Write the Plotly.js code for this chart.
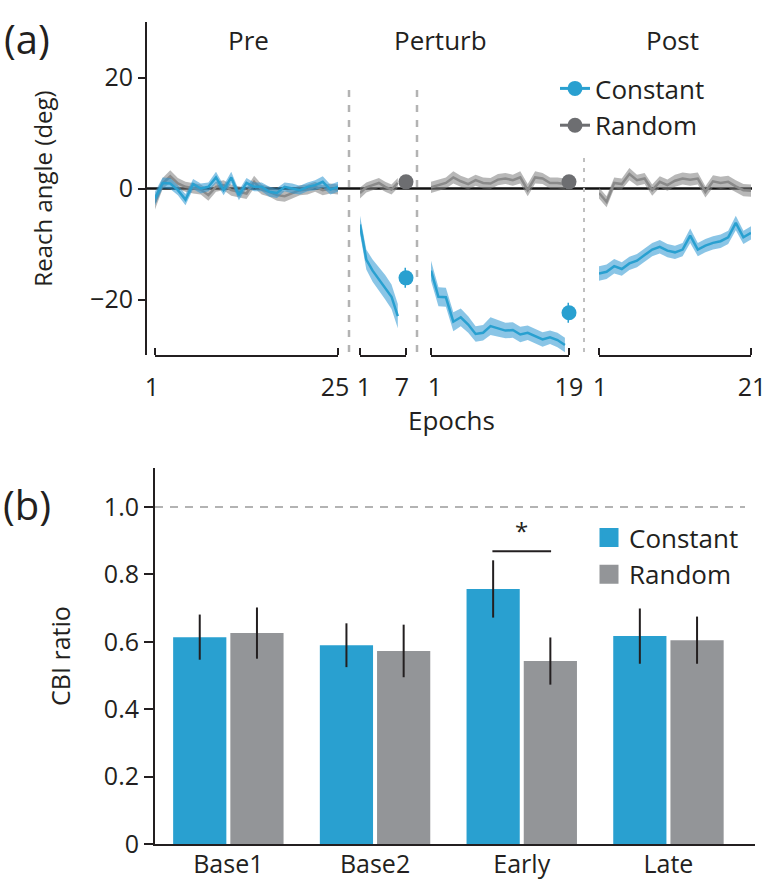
<!DOCTYPE html>
<html>
<head>
<meta charset="utf-8">
<script src="https://cdn.plot.ly/plotly-3.0.1.min.js"></script>
<style>
html,body{margin:0;padding:0;background:#fff;}
#chart{width:767px;height:889px;}
</style>
</head>
<body>
<div id="chart"></div>
<script>
// ---------------- Panel (a) data: reach angle (deg) per epoch ----------------
const preEpochs = [1,2,3,4,5,6,7,8,9,10,11,12,13,14,15,16,17,18,19,20,21,22,23,24,25];
const preConstMean = [-1.8,1.0,0.9,-0.3,-2.0,0.8,0.0,0.3,2.0,-0.3,2.0,-1.2,1.0,0.3,0.3,-0.6,-0.8,0.3,0.0,-0.3,0.3,0.6,1.2,-0.2,0.3];
const preConstSem  = [1.2,1.0,1.0,0.9,1.0,0.9,0.9,0.8,1.0,0.9,1.0,0.9,0.9,0.8,0.8,0.9,0.9,0.8,0.9,0.8,0.8,0.9,1.0,0.9,0.9];
const preRandMean  = [-2.5,0.9,2.2,0.9,0.3,0.0,-0.2,-1.2,0.3,0.6,-0.3,-0.6,-0.9,1.2,-0.2,-0.6,-1.2,-1.4,-0.9,-0.3,-0.2,0.3,-0.3,0.0,-0.2];
const preRandSem   = [1.3,1.0,1.1,1.0,0.9,0.9,0.9,1.0,0.9,0.9,1.0,1.0,1.0,1.1,0.9,0.9,1.0,1.0,0.9,0.9,0.9,0.9,0.9,0.9,0.9];

const pert1Epochs = [1,2,3,4,5,6,7];
const pert1ConstMean = [-6.5,-12.8,-14.8,-16.3,-17.8,-19.5,-23.0];
const pert1ConstSem  = [1.6,1.8,2.0,2.1,2.2,2.2,2.2];
const pert1RandMean  = [-0.8,0.2,0.6,1.0,0.3,-0.2,1.0];
const pert1RandSem   = [1.0,0.9,0.9,0.9,0.9,0.9,0.9];

const pert2Epochs = [1,2,3,4,5,6,7,8,9,10,11,12,13,14,15,16,17,18,19];
const pert2ConstMean = [-14.8,-19.5,-19.6,-24.0,-23.2,-24.5,-26.2,-26.0,-24.8,-25.2,-25.6,-25.5,-26.3,-26.0,-26.6,-27.2,-26.8,-27.3,-28.2];
const pert2ConstSem  = [1.8,1.7,1.7,1.7,1.6,1.5,1.4,1.4,1.6,1.5,1.4,1.4,1.4,1.3,1.3,1.3,1.2,1.3,1.3];
const pert2RandMean  = [0.2,0.6,1.0,2.0,1.3,0.8,1.5,1.0,0.9,1.6,1.8,1.5,2.0,-0.3,2.0,1.8,1.0,1.0,0.8];
const pert2RandSem   = [1.0,1.0,1.0,1.1,1.0,1.0,1.0,1.0,1.0,1.0,1.0,1.0,1.1,1.1,1.1,1.0,1.0,1.0,1.0];

const postEpochs = [1,2,3,4,5,6,7,8,9,10,11,12,13,14,15,16,17,18,19,20,21];
const postConstMean = [-15.3,-15.0,-14.0,-14.5,-13.5,-13.0,-12.0,-11.0,-10.5,-11.2,-11.5,-11.0,-8.5,-11.0,-10.3,-9.8,-9.5,-8.8,-6.2,-8.8,-8.0];
const postConstSem  = [1.3,1.3,1.3,1.2,1.2,1.2,1.2,1.2,1.2,1.2,1.2,1.2,1.3,1.2,1.2,1.2,1.2,1.2,1.3,1.2,1.2];
const postRandMean  = [-0.8,-2.4,1.0,0.8,2.6,1.5,1.8,-0.3,1.2,0.6,1.4,1.8,1.6,1.8,-0.6,1.3,1.0,1.2,0.4,-0.3,-0.4];
const postRandSem   = [1.0,1.0,1.0,1.0,1.1,1.0,1.0,1.0,1.0,1.0,1.1,1.1,1.1,1.1,1.0,1.1,1.1,1.1,1.1,1.1,1.1];

// probe measures shown as dots after each perturbation block
const probeConstMean = [-16.1, -22.4];
const probeConstSem  = [1.8, 1.8];
const probeRandMean  = [1.2, 1.2];
const probeRandSem   = [0.5, 0.5];

const blockLabels = ['Pre', 'Perturb', 'Post'];

// ---------------- Panel (b) data: CBI ratio ----------------
const phases = ['Base1', 'Base2', 'Early', 'Late'];
const cbiConst    = [0.614, 0.590, 0.757, 0.617];
const cbiConstErr = [0.067, 0.065, 0.085, 0.082];
const cbiRand     = [0.626, 0.573, 0.543, 0.605];
const cbiRandErr  = [0.076, 0.078, 0.070, 0.070];
const seriesNames = ['Constant', 'Random'];

// ---------------- styling ----------------
const W = 767, H = 889;
const FONT = '"Open Sans", "Noto Sans", sans-serif';
const INK = '#231f20';
const BLUE = '#29a0d0';
const BLUE_BAND = 'rgba(41,150,210,0.55)';
const GRAY_LINE = '#8a8a8a';
const GRAY_BAND = 'rgba(125,125,125,0.55)';
const GRAY_DOT = '#6d6e71';
const GRAY_BAR = '#939598';
const px = v => v / W;           // horizontal pixel -> paper
const py = v => 1 - v / H;       // vertical pixel -> paper

function band(x, m, s, xa, fill) {
  const up = m.map((v, i) => v + s[i]);
  const lo = m.map((v, i) => v - s[i]);
  return {
    type: 'scatter', mode: 'lines', x: x.concat(x.slice().reverse()),
    y: up.concat(lo.slice().reverse()), xaxis: xa, yaxis: 'y',
    fill: 'toself', fillcolor: fill, line: {width: 0}, hoverinfo: 'skip', showlegend: false
  };
}
function meanLine(x, m, xa, color) {
  return {type: 'scatter', mode: 'lines', x: x, y: m, xaxis: xa, yaxis: 'y',
          line: {color: color, width: 2.5}, showlegend: false};
}

const segments = [
  {ep: preEpochs,   c: preConstMean,   cs: preConstSem,   r: preRandMean,   rs: preRandSem,   xa: 'x'},
  {ep: pert1Epochs, c: pert1ConstMean, cs: pert1ConstSem, r: pert1RandMean, rs: pert1RandSem, xa: 'x2'},
  {ep: pert2Epochs, c: pert2ConstMean, cs: pert2ConstSem, r: pert2RandMean, rs: pert2RandSem, xa: 'x3'},
  {ep: postEpochs,  c: postConstMean,  cs: postConstSem,  r: postRandMean,  rs: postRandSem,  xa: 'x4'}
];

const data = [];
segments.forEach(s => {
  data.push(band(s.ep, s.r, s.rs, s.xa, GRAY_BAND));
  data.push(meanLine(s.ep, s.r, s.xa, GRAY_LINE));
});
segments.forEach(s => {
  data.push(band(s.ep, s.c, s.cs, s.xa, BLUE_BAND));
  data.push(meanLine(s.ep, s.c, s.xa, BLUE));
});

// probe dots placed just after the last epoch of each perturbation block
const probeGap = [1.3, 0.55];
const probeAxes = [
  {xa: 'x2', x: pert1Epochs[pert1Epochs.length - 1] + probeGap[0]},
  {xa: 'x3', x: pert2Epochs[pert2Epochs.length - 1] + probeGap[1]}
];
probeAxes.forEach((p, i) => {
  data.push({
    type: 'scatter', mode: 'lines+markers', x: [p.x], y: [probeConstMean[i]],
    xaxis: p.xa, yaxis: 'y', cliponaxis: false,
    name: seriesNames[0], legend: 'legend', showlegend: i === 0, legendrank: 1,
    marker: {color: BLUE, size: 15}, line: {color: BLUE, width: 3},
    error_y: {type: 'data', array: [probeConstSem[i]], color: BLUE, thickness: 3, width: 0}
  });
  data.push({
    type: 'scatter', mode: 'lines+markers', x: [p.x], y: [probeRandMean[i]],
    xaxis: p.xa, yaxis: 'y', cliponaxis: false,
    name: seriesNames[1], legend: 'legend', showlegend: i === 0, legendrank: 2,
    marker: {color: GRAY_DOT, size: 15}, line: {color: GRAY_DOT, width: 3},
    error_y: {type: 'data', array: [probeRandSem[i]], color: GRAY_DOT, thickness: 3, width: 0}
  });
});

// panel (b) bars
data.push({
  type: 'bar', x: phases, y: cbiConst, name: seriesNames[0], xaxis: 'x5', yaxis: 'y2',
  marker: {color: BLUE}, showlegend: false,
  error_y: {type: 'data', array: cbiConstErr, color: INK, thickness: 2, width: 0}
});
data.push({
  type: 'bar', x: phases, y: cbiRand, name: seriesNames[1], xaxis: 'x5', yaxis: 'y2',
  marker: {color: GRAY_BAR}, showlegend: false,
  error_y: {type: 'data', array: cbiRandErr, color: INK, thickness: 2, width: 0}
});
// legend entries for panel (b)
[[seriesNames[0], BLUE], [seriesNames[1], GRAY_BAR]].forEach(([n, c]) => {
  data.push({
    type: 'scatter', mode: 'markers', x: [null], y: [null], xaxis: 'x5', yaxis: 'y2',
    name: n, legend: 'legend2', showlegend: true,
    marker: {symbol: 'square', size: 16, color: c, line: {color: c, width: 3}}
  });
});

// ---------------- axes ----------------
const yDomA = [py(355), py(22)];
// bracket-style epoch axis: line spans the block, end marks at both ends of the block
function segAxis(domL, domR, ep, rangeEnd, shift) {
  return {
    domain: [px(domL), px(domR)], anchor: 'y',
    range: [ep[0], rangeEnd],
    tickvals: [ep[0], ep[ep.length - 1]],
    ticktext: [String(ep[0]), String(ep[ep.length - 1])],
    ticks: '',
    minor: {tickvals: [ep[0], rangeEnd], ticks: 'inside', ticklen: 7, tickwidth: 2,
            tickcolor: INK, showgrid: false},
    showline: true, linewidth: 2, linecolor: INK,
    showgrid: false, zeroline: false, fixedrange: true,
    ticklabelstandoff: 9, ticklabelshift: shift, ticklabeloverflow: 'allow',
    tickfont: {family: FONT, size: 25, color: INK}
  };
}

const layout = {
  width: W, height: H, autosize: false,
  margin: {l: 0, r: 0, t: 0, b: 0, pad: 0},
  paper_bgcolor: '#fff', plot_bgcolor: 'rgba(0,0,0,0)',
  font: {family: FONT, color: INK, size: 25},
  barmode: 'group', bargap: 0.22, bargroupgap: 0.07,
  xaxis:  segAxis(155, 338, preEpochs, preEpochs[preEpochs.length - 1], -3),
  xaxis2: segAxis(360, 406, pert1Epochs, probeAxes[0].x, 4),
  xaxis3: segAxis(431, 569, pert2Epochs, probeAxes[1].x, 4),
  xaxis4: segAxis(599, 751, postEpochs, postEpochs[postEpochs.length - 1], 1),
  yaxis: {
    domain: yDomA, anchor: 'free', position: px(146),
    range: [-30, 30], tickvals: [-20, 0, 20], ticktext: ['\u221220', '0', '20'],
    ticks: 'outside', ticklen: 7, tickwidth: 2, tickcolor: INK,
    showline: true, linewidth: 2, linecolor: INK,
    showgrid: false, zeroline: false, fixedrange: true,
    tickfont: {family: FONT, size: 25, color: INK},
    title: {text: 'Reach angle (deg)', font: {family: FONT, size: 24, color: INK}, standoff: 30}
  },
  xaxis5: {
    domain: [px(155), px(755)], anchor: 'y2', type: 'category',
    range: [-0.5, 3.59], ticks: '', showline: true, linewidth: 2, linecolor: INK,
    showgrid: false, zeroline: false, fixedrange: true,
    ticklabelstandoff: -3,
    tickfont: {family: FONT, size: 25, color: INK}
  },
  yaxis2: {
    domain: [py(844), py(468)], anchor: 'x5',
    range: [0, 1.116], tickvals: [0, 0.2, 0.4, 0.6, 0.8, 1.0],
    ticktext: ['0', '0.2', '0.4', '0.6', '0.8', '1.0'],
    ticks: 'outside', ticklen: 9, tickwidth: 2, tickcolor: INK,
    showline: true, linewidth: 2, linecolor: INK,
    showgrid: false, zeroline: false, fixedrange: true,
    tickfont: {family: FONT, size: 25, color: INK},
    title: {text: 'CBI ratio', font: {family: FONT, size: 25, color: INK}, standoff: 26}
  },
  legend: {
    x: px(555), y: py(65), xanchor: 'left', yanchor: 'top',
    bgcolor: 'rgba(0,0,0,0)', borderwidth: 0, traceorder: 'normal',
    font: {family: FONT, size: 26, color: INK}, itemclick: false, itemdoubleclick: false
  },
  legend2: {
    x: px(589), y: py(514), xanchor: 'left', yanchor: 'top',
    bgcolor: 'rgba(0,0,0,0)', borderwidth: 0, traceorder: 'normal',
    font: {family: FONT, size: 26, color: INK}, itemclick: false, itemdoubleclick: false
  },
  shapes: [
    // zero reference line across panel (a)
    {type: 'line', xref: 'paper', yref: 'y', x0: px(146), x1: px(752), y0: 0, y1: 0,
     line: {color: '#111', width: 2.5}, layer: 'below'},
    // block separators
    {type: 'line', xref: 'paper', yref: 'paper', x0: px(349), x1: px(349), y0: py(352), y1: py(82),
     line: {color: '#b3b3b3', width: 2.5, dash: '7px,8px'}},
    {type: 'line', xref: 'paper', yref: 'paper', x0: px(417), x1: px(417), y0: py(352), y1: py(82),
     line: {color: '#b3b3b3', width: 2.5, dash: '7px,8px'}},
    {type: 'line', xref: 'paper', yref: 'paper', x0: px(584), x1: px(584), y0: py(352), y1: py(155),
     line: {color: '#c0c0c0', width: 2, dash: '4px,6px'}},
    // reference ratio 1.0 in panel (b)
    {type: 'line', xref: 'paper', yref: 'y2', x0: px(155), x1: px(745), y0: 1, y1: 1,
     line: {color: '#b3b3b3', width: 2, dash: '8px,7px'}},
    // significance bracket over Early
    {type: 'line', xref: 'x5', yref: 'y2', x0: 1.8, x1: 2.2, y0: 0.869, y1: 0.869,
     line: {color: INK, width: 2}}
  ],
  annotations: [
    {text: '(a)', xref: 'paper', yref: 'paper', x: px(27), y: py(38), xanchor: 'center', yanchor: 'middle',
     showarrow: false, font: {family: FONT, size: 40, color: INK}},
    {text: '(b)', xref: 'paper', yref: 'paper', x: px(27), y: py(505), xanchor: 'center', yanchor: 'middle',
     showarrow: false, font: {family: FONT, size: 40, color: INK}},
    {text: blockLabels[0], xref: 'paper', yref: 'paper', x: px(248), y: py(40), xanchor: 'center', yanchor: 'middle',
     showarrow: false, font: {family: FONT, size: 26, color: INK}},
    {text: blockLabels[1], xref: 'paper', yref: 'paper', x: px(440), y: py(40), xanchor: 'center', yanchor: 'middle',
     showarrow: false, font: {family: FONT, size: 26, color: INK}},
    {text: blockLabels[2], xref: 'paper', yref: 'paper', x: px(672), y: py(40), xanchor: 'center', yanchor: 'middle',
     showarrow: false, font: {family: FONT, size: 26, color: INK}},
    {text: 'Epochs', xref: 'paper', yref: 'paper', x: px(452), y: py(420), xanchor: 'center', yanchor: 'middle',
     showarrow: false, font: {family: FONT, size: 26, color: INK}},
    {text: '*', xref: 'x5', yref: 'y2', x: 2, y: 0.875, yanchor: 'bottom', showarrow: false,
     font: {family: FONT, size: 24, color: INK}}
  ]
};

Plotly.newPlot('chart', data, layout, {displayModeBar: false, staticPlot: true});
</script>
</body>
</html>
